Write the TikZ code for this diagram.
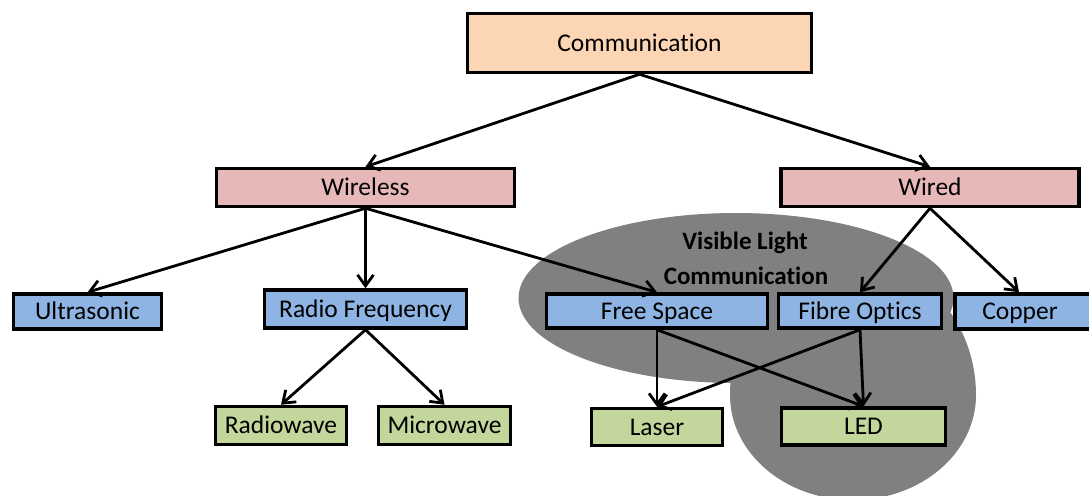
\documentclass[tikz,border=0pt]{standalone}
\usepackage{fontspec}
\setmainfont{Carlito}[Ligatures=NoCommon]
\usetikzlibrary{arrows.meta}
\definecolor{peach}{HTML}{FCD5B5}
\definecolor{rose}{HTML}{E6B9B8}
\definecolor{sky}{HTML}{8EB4E3}
\definecolor{olive}{HTML}{C3D69B}
\definecolor{vlcgray}{HTML}{808080}
\begin{document}
\begin{tikzpicture}[x=1pt,y=-1pt,
  box/.style={draw=black,line width=3.5pt,inner sep=0pt,anchor=center,
    font=\fontsize{25.5}{30}\selectfont,text height=16.5pt,text depth=0pt},
  link/.style={line width=2.8pt,-{Straight Barb[length=11pt,width=16pt]}},
  label/.style={font=\fontsize{25}{30}\selectfont\bfseries,inner sep=0pt,
    text height=16pt,text depth=0pt}]
\useasboundingbox (0,0) rectangle (1089,495);

% visible light communication region: an ellipse and a rounded blob below it
\begin{scope}
  \clip (0,0) rectangle (1089,495);
  \fill[vlcgray] (736,298) ellipse [x radius=217.5, y radius=85];
  % lower half flatter (y axis points down here), upper half taller
  \fill[vlcgray] (976,395)
    arc[start angle=0, end angle=180, x radius=123, y radius=105]
    arc[start angle=180, end angle=360, x radius=123, y radius=135] -- cycle;
\end{scope}
\node[label] (vl1) at (745,241) {Visible Light};
\node[label] (vl2) at (746,276) {Communication};

% boxes
\node[box,fill=peach,minimum width=344pt,minimum height=59pt] (comm) at (639.5,43) {Communication};
\node[box,fill=rose,minimum width=298pt,minimum height=38pt] (wireless) at (365.5,187.5) {Wireless};
\node[box,fill=rose,minimum width=298pt,minimum height=38pt] (wired) at (930,187.5) {Wired};

\node[box,fill=sky,minimum width=148pt,minimum height=35pt] (ultra) at (87.5,311.5) {Ultrasonic};
\node[box,fill=sky,minimum width=202pt,minimum height=38pt] (rf) at (365.5,309) {Radio Frequency};
\node[box,fill=sky,minimum width=221pt,minimum height=34pt] (fs) at (657,311) {Free Space};
\node[box,fill=sky,minimum width=163pt,minimum height=34pt] (fo) at (860,311) {Fibre Optics};
\begin{scope}
  \clip (0,0) rectangle (1089,495);
  \node[box,fill=sky,minimum width=138pt,minimum height=35pt] (copper) at (1024,311.5) {\hspace*{-8pt}Copper};
\end{scope}

\node[box,fill=olive,minimum width=131pt,minimum height=38pt] (radio) at (281,425.5) {Radiowave};
\node[box,fill=olive,minimum width=132pt,minimum height=38pt] (micro) at (444.5,425.5) {Microwave};
\node[box,fill=olive,minimum width=131pt,minimum height=37pt] (laser) at (657,427) {Laser};
\node[box,fill=olive,minimum width=164pt,minimum height=37pt] (led) at (863.5,426.5) {LED};

% connectors
\draw[link] (comm.south) -- (wireless.north);
\draw[link] (comm.south) -- (wired.north);
\draw[link] (wireless.south) -- (ultra.north);
\draw[link] (wireless.south) -- (rf.north);
\draw[link] (wireless.south) -- (fs.north);
\draw[link] (wired.south) -- (fo.north);
\draw[link] (wired.south) -- ([xshift=-5pt]copper.north);
\draw[link] (rf.south) -- (radio.north);
\draw[link] (rf.south) -- (micro.north);
\draw[link] (fs.south) -- (laser.north);
\draw[link] (fs.south) -- (led.north);
\draw[link] (fo.south) -- (laser.north);
\draw[link] (fo.south) -- (led.north);
\end{tikzpicture}
\end{document}
